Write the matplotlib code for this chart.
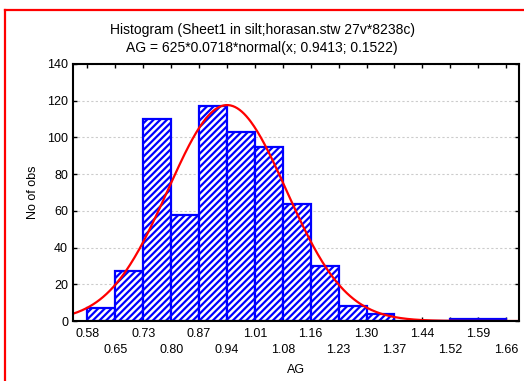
import matplotlib.pyplot as plt
import numpy as np
from matplotlib.lines import Line2D

plt.rcParams['font.family'] = ['Liberation Sans', 'DejaVu Sans']
plt.rcParams['hatch.linewidth'] = 1.6

# histogram of AG, 15 classes of width 0.0718 starting at 0.582
bin_start = 0.582
bin_width = 0.0718
counts = [7, 27, 110, 58, 117, 103, 95, 64, 30, 8, 4, 0, 0, 1, 1]
edge_labels = ['0.58', '0.65', '0.73', '0.80', '0.87', '0.94', '1.01', '1.08',
               '1.16', '1.23', '1.30', '1.37', '1.44', '1.52', '1.59', '1.66']

n_obs = 625
mu, sigma = 0.9413, 0.1522

edges = bin_start + bin_width * np.arange(len(counts) + 1)

fig = plt.figure(figsize=(5.24, 3.81), dpi=100)
ax = fig.add_axes([73 / 524, 1 - 321 / 381, 446 / 524, 257 / 381])

ax.bar(edges[:-1], counts, width=bin_width, align='edge', color='white',
       edgecolor='#0000ff', linewidth=1.6, hatch='/////', zorder=2)

# fitted normal curve scaled to counts
x_min, x_max = 0.545, 1.692
xs = np.linspace(x_min, x_max, 400)
pdf = np.exp(-0.5 * ((xs - mu) / sigma) ** 2) / (sigma * np.sqrt(2 * np.pi))
ax.plot(xs, n_obs * bin_width * pdf, color='#ff0000', linewidth=1.6, zorder=3)

ax.set_xlim(x_min, x_max)
ax.set_ylim(0, 140)
ax.set_yticks(np.arange(0, 141, 20))
ax.set_xticks(edges)
ax.set_xticklabels([lab if i % 2 == 0 else '\n' + lab
                    for i, lab in enumerate(edge_labels)], linespacing=1.45)
ax.tick_params(axis='both', direction='in', length=3, width=1, labelsize=9,
               top=True, right=True, colors='black')
ax.tick_params(axis='x', pad=5)
ax.yaxis.grid(True, color='#cccccc', linestyle=(0, (2, 2)), linewidth=0.8)
ax.set_axisbelow(True)
for sp in ax.spines.values():
    sp.set_linewidth(1.5)
    sp.set_zorder(4)

ax.set_xlabel('AG', fontsize=9, labelpad=6)
ax.set_ylabel('No of obs', fontsize=9, labelpad=6)

fig.text(262 / 524, 1 - 30 / 381, 'Histogram (Sheet1 in silt;horasan.stw 27v*8238c)',
         ha='center', va='center', fontsize=10)
fig.text(262 / 524, 1 - 48 / 381, 'AG = 625*0.0718*normal(x; 0.9413; 0.1522)',
         ha='center', va='center', fontsize=10)

# red frame on the left and top
fig.add_artist(Line2D([5 / 524, 5 / 524], [0, 1 - 9.5 / 381],
                      transform=fig.transFigure, color='#ff0000', linewidth=1.6))
fig.add_artist(Line2D([5 / 524, 1], [1 - 9.5 / 381, 1 - 9.5 / 381],
                      transform=fig.transFigure, color='#ff0000', linewidth=1.6))

fig.savefig('out.png', dpi=100)
